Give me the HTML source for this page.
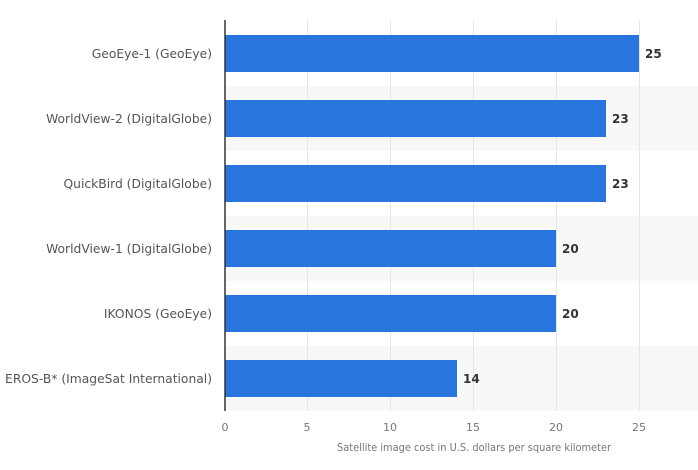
<!DOCTYPE html>
<html><head><style>
body{margin:0;background:#fff;}
svg text{font-family:"DejaVu Sans","Liberation Sans",sans-serif;}
</style></head><body>
<svg width="698" height="465" viewBox="0 0 698 465" xmlns="http://www.w3.org/2000/svg">
<g fill="#f8f8f8">
<rect x="225" y="86" width="473" height="65"/>
<rect x="225" y="216" width="473" height="65"/>
<rect x="225" y="346" width="473" height="65"/>
</g>
<g stroke="#e6e6e6" stroke-width="1">
<line x1="307.5" y1="20" x2="307.5" y2="411"/>
<line x1="390.5" y1="20" x2="390.5" y2="411"/>
<line x1="473.5" y1="20" x2="473.5" y2="411"/>
<line x1="556.5" y1="20" x2="556.5" y2="411"/>
<line x1="639.5" y1="20" x2="639.5" y2="411"/>
</g>
<g fill="#2876dd">
<rect x="225" y="35" width="414" height="37"/>
<rect x="225" y="100" width="381" height="37"/>
<rect x="225" y="165" width="381" height="37"/>
<rect x="225" y="230" width="331" height="37"/>
<rect x="225" y="295" width="331" height="37"/>
<rect x="225" y="360" width="232" height="37"/>
</g>
<line x1="225" y1="20" x2="225" y2="411" stroke="#333" stroke-width="1.5"/>
<g font-size="12.3" fill="#555" text-anchor="end">
<text x="212" y="58">GeoEye-1 (GeoEye)</text>
<text x="212" y="123">WorldView-2 (DigitalGlobe)</text>
<text x="212" y="188">QuickBird (DigitalGlobe)</text>
<text x="212" y="253">WorldView-1 (DigitalGlobe)</text>
<text x="212" y="318">IKONOS (GeoEye)</text>
<text x="212" y="383">EROS-B* (ImageSat International)</text>
</g>
<g font-size="12" font-weight="bold" fill="#333">
<text x="645" y="58">25</text>
<text x="612" y="123">23</text>
<text x="612" y="188">23</text>
<text x="562" y="253">20</text>
<text x="562" y="318">20</text>
<text x="463" y="383">14</text>
</g>
<g font-size="11" fill="#777" text-anchor="middle">
<text x="225" y="431">0</text>
<text x="307" y="431">5</text>
<text x="390" y="431">10</text>
<text x="473" y="431">15</text>
<text x="556" y="431">20</text>
<text x="639" y="431">25</text>
</g>
<text x="474" y="451" font-size="11" fill="#777" text-anchor="middle" textLength="274" lengthAdjust="spacingAndGlyphs">Satellite image cost in U.S. dollars per square kilometer</text>
</svg>
</body></html>
